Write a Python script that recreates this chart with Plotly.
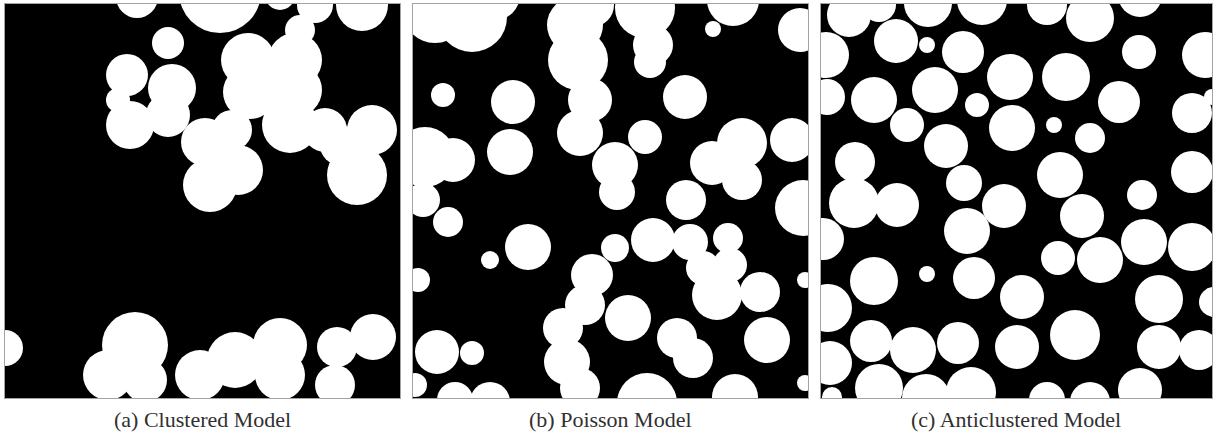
import plotly.graph_objects as go

# ---------------------------------------------------------------------------
# Disc realisations (centre x, centre y, radius) in each window's own units;
# y grows downward, origin at the window's top-left corner.
# ---------------------------------------------------------------------------
clustered_x = [132, 215, 275, 357, 310, 295, 163, 122, 167, 125, 163, 113, 243, 290,
               290, 245, 268, 205, 200, 233, 227, 285, 320, 367, 352, 335, 0, 130, 103, 140,
               195, 230, 275, 275, 332, 368, 330]
clustered_y = [-7, -12, -9, 1, 1, 26, 39, 71, 84, 121, 111, 96, 56, 56,
               86, 88, 72, 181, 138, 166, 126, 121, 126, 126, 171, 141, 344, 341, 371, 376,
               371, 356, 341, 371, 343, 333, 381]
clustered_r = [21, 41, 15, 26, 18, 15, 16, 21, 24, 24, 22, 12, 27, 27,
               27, 27, 25, 27, 24, 25, 20, 28, 22, 25, 30, 20, 18, 33, 25, 22,
               25, 28, 27, 25, 20, 23, 20]

poisson_x = [22, 59, 82, 30, 100, 97, 40, 12, 10, 162, 179, 165, 177, 167, 202, 204,
             232, 240, 237, 320, 300, 387, 272, 232, 329, 299, 329, 379, 273, 390,
             35, 115, 77, 5, 24, 59, 2, 42, 77,
             202, 240, 277, 315, 179, 172, 150, 154, 167, 215, 304, 347, 317, 290,
             264, 280, 354, 234, 322, 392, 392]
poisson_y = [6, 13, -9, 91, 98, 148, 156, 153, 196, 21, 1, 56, 96, 129, 161, 188,
             4, 41, 58, -4, 25, 26, 93, 133, 139, 159, 176, 136, 196, 204,
             218, 243, 256, 276, 348, 349, 381, 396, 398,
             244, 236, 238, 234, 271, 301, 324, 358, 384, 314, 291, 288, 261, 264,
             334, 354, 336, 399, 393, 276, 379]
poisson_r = [33, 35, 25, 12, 22, 23, 22, 30, 17, 28, 22, 30, 22, 23, 23, 18,
             30, 20, 16, 26, 8, 22, 22, 17, 25, 22, 20, 22, 20, 28,
             15, 23, 9, 12, 22, 12, 12, 18, 20,
             14, 22, 18, 15, 21, 20, 20, 23, 20, 23, 25, 20, 17, 17,
             20, 20, 23, 30, 23, 8, 8]

anticlustered_x = [28, 58, 107, 161, 226, 269, 319, 5, 75, 106, 142, 189, 245, 318,
                   384, 6, 53, 114, 156, 86, 191, 233, 298, 371, 391, 125, 269, 34,
                   239, 371, 143, 33, 76, 183, 321, 261, 2, 146, 323, 371, 237, 279,
                   53, 106, 153, 201, 338, 393, 7, 254, 50, 92, 137, 196, 338, 378,
                   9, 58, 105, 150, 226, 269, 319, 11]
anticlustered_y = [11, 1, -1, -4, 1, 14, -9, 51, 37, 41, 48, 73, 73, 48,
                   51, 93, 96, 86, 101, 121, 124, 121, 98, 109, 93, 142, 134, 158,
                   171, 168, 179, 199, 201, 202, 191, 212, 235, 227, 238, 243, 254, 256,
                   277, 270, 274, 293, 295, 298, 304, 331, 337, 346, 339, 343, 343, 346,
                   359, 384, 394, 388, 396, 398, 386, 393]
anticlustered_r = [22, 17, 24, 25, 20, 24, 22, 23, 22, 8, 21, 23, 24, 17,
                   23, 18, 23, 23, 12, 17, 23, 8, 21, 20, 8, 22, 15, 20,
                   23, 21, 18, 25, 22, 22, 15, 22, 21, 23, 23, 24, 17, 23,
                   24, 8, 21, 22, 24, 15, 24, 25, 21, 23, 21, 22, 22, 20,
                   22, 24, 24, 25, 18, 20, 22, 10]

captions = ["(a) Clustered Model", "(b) Poisson Model", "(c) Anticlustered Model"]

# ---------------------------------------------------------------------------
# Page geometry (pixels)
# ---------------------------------------------------------------------------
W, H = 1214, 432
panel_left = [5, 413, 821]
panel_width = [395, 395, 391]
panel_top, panel_bottom = 4, 398
caption_y = 419

series = [
    (clustered_x, clustered_y, clustered_r),
    (poisson_x, poisson_y, poisson_r),
    (anticlustered_x, anticlustered_y, anticlustered_r),
]

fig = go.Figure()
shapes = []
annotations = []
panel_h = panel_bottom - panel_top

for i, (xs, ys, rs) in enumerate(series):
    n = "" if i == 0 else str(i + 1)
    xa, ya = "x" + n, "y" + n
    left, width = panel_left[i], panel_width[i]

    # invisible centres keep each window's axes alive
    fig.add_trace(go.Scatter(x=xs, y=ys, mode="markers", xaxis=xa, yaxis=ya,
                             marker=dict(size=1, opacity=0), hoverinfo="skip",
                             showlegend=False))

    for cx, cy, r in zip(xs, ys, rs):
        shapes.append(dict(type="circle", xref=xa, yref=ya,
                           x0=cx - r, x1=cx + r, y0=cy - r, y1=cy + r,
                           fillcolor="white", line=dict(width=0), layer="below"))

    axis_common = dict(showgrid=False, zeroline=False, showticklabels=False,
                       ticks="", showline=True, mirror=True,
                       linecolor="#a3a3a3", linewidth=1, fixedrange=True)
    fig.layout["xaxis" + n] = dict(
        domain=[left / W, (left + width) / W], range=[0, width],
        anchor=ya, **axis_common)
    fig.layout["yaxis" + n] = dict(
        domain=[1 - panel_bottom / H, 1 - panel_top / H], range=[panel_h, 0],
        anchor=xa, **axis_common)

    annotations.append(dict(
        text=captions[i], xref="paper", yref="paper",
        x=(left + width / 2) / W, y=1 - caption_y / H,
        xanchor="center", yanchor="middle", showarrow=False,
        font=dict(family="Liberation Serif, serif", size=22, color="#303030")))

fig.update_layout(
    width=W, height=H,
    margin=dict(l=0, r=0, t=0, b=0),
    paper_bgcolor="white", plot_bgcolor="black",
    shapes=shapes, annotations=annotations,
    showlegend=False,
)

fig.write_html("out.html")
